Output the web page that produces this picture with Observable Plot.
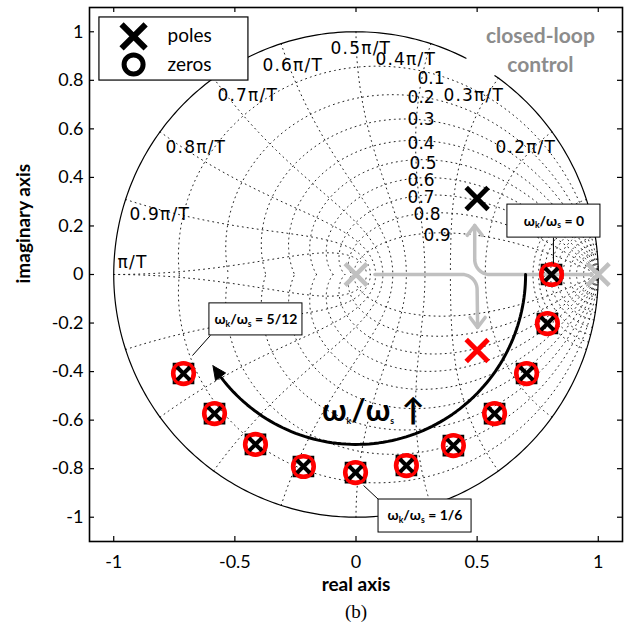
<!DOCTYPE html>
<html><head><meta charset="utf-8">
<script src="https://cdn.jsdelivr.net/npm/d3@7"></script>
<script src="https://cdn.jsdelivr.net/npm/@observablehq/plot@0.6"></script>
<style>body{margin:0;background:#fff}</style>
</head><body><div id="chart"></div>
<script>
// ---------------- data ----------------
const axisDomain = [-1.1, 1.1];
const xTicks = [-1, -0.5, 0, 0.5, 1];
const yTicks = [-1, -0.8, -0.6, -0.4, -0.2, 0, 0.2, 0.4, 0.6, 0.8, 1];

// z-grid: damping ratios and natural frequencies (× π/T)
const zetaLevels = [0.1, 0.2, 0.3, 0.4, 0.5, 0.6, 0.7, 0.8, 0.9];
const wnMajor = [0.1, 0.2, 0.3, 0.4, 0.5, 0.6, 0.7, 0.8, 0.9, 1.0];
const wnMinor = [0.01, 0.02, 0.03, 0.04, 0.05, 0.06, 0.07, 0.08, 0.09];

const zetaLabelText = ["0.1", "0.2", "0.3", "0.4", "0.5", "0.6", "0.7", "0.8", "0.9"];
const zetaLabelX = [0.254, 0.213, 0.213, 0.213, 0.221, 0.213, 0.213, 0.237, 0.279];
const zetaLabelY = [0.808, 0.729, 0.639, 0.540, 0.457, 0.387, 0.317, 0.247, 0.161];

const wnLabelText = ["0.2π/T", "0.3π/T", "0.4π/T", "0.5π/T", "0.6π/T", "0.7π/T", "0.8π/T", "0.9π/T", "π/T"];
const wnLabelX = [0.576, 0.361, 0.080, -0.105, -0.386, -0.572, -0.786, -0.935, -0.984];
const wnLabelY = [0.523, 0.738, 0.886, 0.931, 0.861, 0.738, 0.523, 0.247, 0.049];

// unit circle drawn with a small gap (degrees)
const unitCircleFromDeg = 63;
const unitCircleToDeg = 415;

// pole/zero pairs (real, imaginary)
const pzReal = [0.807, 0.790, 0.704, 0.572, 0.402, 0.208, -0.002, -0.217, -0.415, -0.584, -0.712];
const pzImag = [0.000, -0.202, -0.408, -0.573, -0.705, -0.787, -0.816, -0.791, -0.700, -0.573, -0.408];

// open-loop poles (grey) and closed-loop poles
const greyPoleReal = [0, 1];
const greyPoleImag = [0, 0];
const blackPoleReal = [0.5];
const blackPoleImag = [0.313];
const redPoleReal = [0.5];
const redPoleImag = [-0.313];

// sweep arc (radius, start/end angle in degrees)
const sweepRadius = 0.70;
const sweepFromDeg = 0;
const sweepToDeg = -147.5;

// annotation boxes
const boxLabels = ["ω_k/ω_s = 0", "ω_k/ω_s = 5/12", "ω_k/ω_s = 1/6"];
const boxX1 = [0.625, -0.605, 0.093];
const boxX2 = [1.009, -0.221, 0.477];
const boxY1 = [0.152, -0.251, -1.063];
const boxY2 = [0.288, -0.119, -0.927];
const leaderX1 = [0.815, -0.601, 0.031];
const leaderY1 = [0.152, -0.251, -0.869];
const leaderX2 = [0.815, -0.675, 0.093];
const leaderY2 = [0.045, -0.334, -0.927];

// legend
const legendBox = {x1: -1.059, x2: -0.444, y1: 0.799, y2: 1.059};
const legendLabels = ["poles", "zeros"];
const legendMarkerX = -0.918;
const legendTextX = -0.778;
const legendY = [0.981, 0.865];

// ---------------- helpers ----------------
const deg = Math.PI / 180;
function arcPts(cx, cy, r, a0, a1, n = 60) {
  return d3.range(n + 1).map(i => {
    const a = (a0 + (a1 - a0) * i / n) * deg;
    return {x: cx + r * Math.cos(a), y: cy + r * Math.sin(a)};
  });
}

// z-grid curves
const grid = [];
zetaLevels.forEach(z => {
  const m = z / Math.sqrt(1 - z * z);
  [1, -1].forEach(s => {
    d3.range(0, 181).forEach(i => {
      const th = Math.PI * i / 180, r = Math.exp(-m * th);
      grid.push({id: `z${z}${s}`, x: r * Math.cos(th), y: s * r * Math.sin(th)});
    });
  });
});
[...wnMajor, ...wnMinor].forEach(f => {
  const w = f * Math.PI;
  [1, -1].forEach(s => {
    d3.range(0, 91).forEach(i => {
      const p = i * deg, zeta = Math.sin(p), r = Math.exp(-zeta * w), a = w * Math.cos(p);
      grid.push({id: `w${f}${s}`, x: r * Math.cos(a), y: s * r * Math.sin(a)});
    });
  });
});

const unitCircle = arcPts(0, 0, 1, unitCircleFromDeg, unitCircleToDeg, 360);

// grey arrows (open loop -> closed loop)
const cr = 0.062;
const greyDown = [{x: greyPoleReal[0] + 0.078, y: 0}, {x: redPoleReal[0] - cr, y: 0},
  ...arcPts(redPoleReal[0] - cr, -cr, cr, 90, 0, 14), {x: redPoleReal[0] + 0.002, y: -0.218}];
const greyUp = [{x: greyPoleReal[1] - 0.025, y: 0}, {x: blackPoleReal[0] - 0.01 + cr, y: 0},
  ...arcPts(blackPoleReal[0] - 0.01 + cr, cr, cr, -90, -180, 14), {x: blackPoleReal[0] - 0.01, y: 0.202}];
const hw = 0.031, hh = 0.041;
const headDown = [{x: 0.502 - hw, y: -0.218 + hh}, {x: 0.502, y: -0.218}, {x: 0.502 + hw, y: -0.218 + hh}];
const headUp = [{x: 0.49 - hw, y: 0.202 - hh}, {x: 0.49, y: 0.202}, {x: 0.49 + hw, y: 0.202 - hh}];

// sweep arc with filled head
const headBack = sweepToDeg + 4.5;
const sweepLine = arcPts(0, 0, sweepRadius, sweepFromDeg, headBack + 0.5, 90);
const P = (r, a) => ({x: r * Math.cos(a * deg), y: r * Math.sin(a * deg)});
const sweepHead = [P(sweepRadius, sweepToDeg), P(sweepRadius + 0.026, headBack), P(sweepRadius - 0.026, headBack), P(sweepRadius, sweepToDeg)];

const pz = pzReal.map((x, i) => ({x, y: pzImag[i]}));
const greyPoles = greyPoleReal.map((x, i) => ({x, y: greyPoleImag[i]}));
const blackPoles = blackPoleReal.map((x, i) => ({x, y: blackPoleImag[i]}));
const redPoles = redPoleReal.map((x, i) => ({x, y: redPoleImag[i]}));
const boxes = boxLabels.map((label, i) => ({label, x1: boxX1[i], x2: boxX2[i], y1: boxY1[i], y2: boxY2[i],
  lx1: leaderX1[i], ly1: leaderY1[i], lx2: leaderX2[i], ly2: leaderY2[i]}));
const zetaLbl = zetaLabelText.map((t, i) => ({t, x: zetaLabelX[i], y: zetaLabelY[i]}));
const wnLbl = wnLabelText.map((t, i) => ({t, x: wnLabelX[i], y: wnLabelY[i]}));

const tk = 5 / 242.3;
const sans = "Lato, 'Open Sans', sans-serif";
const gridFont = "'DejaVu Sans', sans-serif";
const grey = "#c0c0c0";

const svg = Plot.plot({
  width: 636, height: 626,
  marginLeft: 89, marginRight: 14, marginTop: 7, marginBottom: 85,
  x: {domain: axisDomain, axis: null},
  y: {domain: axisDomain, axis: null},
  style: {fontFamily: sans, background: "white", color: "black"},
  marks: [
    // z-grid
    Plot.line(grid, {x: "x", y: "y", z: "id", stroke: "#222", strokeWidth: 1, strokeDasharray: "1,4"}),
    Plot.line(unitCircle, {x: "x", y: "y", stroke: "black", strokeWidth: 1.2}),
    Plot.text(zetaLbl, {x: "x", y: "y", text: "t", textAnchor: "start", fontFamily: gridFont, fontSize: 17}),
    Plot.text(wnLbl, {x: "x", y: "y", text: "t", textAnchor: "start", fontFamily: gridFont, fontSize: 17}),
    // grey movement arrows
    Plot.line(greyDown, {x: "x", y: "y", stroke: grey, strokeWidth: 3.5, curve: "linear"}),
    Plot.line(greyUp, {x: "x", y: "y", stroke: grey, strokeWidth: 3.5, curve: "linear"}),
    Plot.line(headDown, {x: "x", y: "y", stroke: grey, strokeWidth: 3.5}),
    Plot.line(headUp, {x: "x", y: "y", stroke: grey, strokeWidth: 3.5}),
    // sweep arc
    Plot.line(sweepLine, {x: "x", y: "y", stroke: "black", strokeWidth: 3}),
    Plot.line(sweepHead, {x: "x", y: "y", stroke: "black", fill: "black", strokeWidth: 1}),
    Plot.text(["ω_k/ω_s ↑"], {x: 0.072, y: -0.562, text: d => d, fontSize: 31, fontWeight: "bold", fontFamily: sans}),
    // pole-zero pairs
    Plot.dot(pz, {x: "x", y: "y", symbol: "square", r: 11.1, stroke: "black", strokeWidth: 2, fill: "none"}),
    Plot.dot(pz, {x: "x", y: "y", symbol: "circle", r: 10.3, stroke: "#ff0000", strokeWidth: 4.6, fill: "none"}),
    Plot.dot(pz, {x: "x", y: "y", symbol: "times", r: 6, stroke: "black", strokeWidth: 4, fill: "none"}),
    // single poles
    Plot.dot(greyPoles, {x: "x", y: "y", symbol: "times", r: 10, stroke: grey, strokeWidth: 4.5}),
    Plot.dot(blackPoles, {x: "x", y: "y", symbol: "times", r: 10, stroke: "black", strokeWidth: 5}),
    Plot.dot(redPoles, {x: "x", y: "y", symbol: "times", r: 10, stroke: "#ff0000", strokeWidth: 5}),
    // annotation boxes
    Plot.link(boxes, {x1: "lx1", y1: "ly1", x2: "lx2", y2: "ly2", stroke: "black", strokeWidth: 1}),
    Plot.rect(boxes, {x1: "x1", x2: "x2", y1: "y1", y2: "y2", fill: "white", stroke: "black", strokeWidth: 1}),
    Plot.text(boxes, {x: d => (d.x1 + d.x2) / 2, y: d => (d.y1 + d.y2) / 2, text: "label", fontSize: 14, fontWeight: "bold", fontFamily: sans}),
    // legend
    Plot.rect([legendBox], {x1: "x1", x2: "x2", y1: "y1", y2: "y2", fill: "white", stroke: "black", strokeWidth: 1.2}),
    Plot.dot([{x: legendMarkerX, y: legendY[0]}], {x: "x", y: "y", symbol: "times", r: 11, stroke: "black", strokeWidth: 6}),
    Plot.dot([{x: legendMarkerX, y: legendY[1]}], {x: "x", y: "y", symbol: "circle", r: 9.5, stroke: "black", strokeWidth: 5, fill: "none"}),
    Plot.text(legendLabels, {x: legendTextX, y: (d, i) => legendY[i], text: d => d, textAnchor: "start", fontSize: 19, fontFamily: sans}),
    // closed-loop control label
    Plot.text(["closed-loop\ncontrol"], {x: 0.761, y: 0.934, text: d => d, fontSize: 21, fontWeight: "bold", fill: "#8c8c8c", lineHeight: 1.38, fontFamily: sans}),
    // frame & ticks
    Plot.frame({stroke: "black", strokeWidth: 1.6}),
    Plot.ruleX(xTicks, {x: d => d, y1: axisDomain[0], y2: axisDomain[0] + tk, stroke: "black", strokeWidth: 1.2}),
    Plot.ruleX(xTicks, {x: d => d, y1: axisDomain[1], y2: axisDomain[1] - tk, stroke: "black", strokeWidth: 1.2}),
    Plot.ruleY(yTicks, {y: d => d, x1: axisDomain[0], x2: axisDomain[0] + tk, stroke: "black", strokeWidth: 1.2}),
    Plot.ruleY(yTicks, {y: d => d, x1: axisDomain[1], x2: axisDomain[1] - tk, stroke: "black", strokeWidth: 1.2}),
    Plot.axisX({ticks: xTicks, tickSize: 0, tickPadding: 14, tickFormat: d => String(d), fontSize: 18, label: null, fontFamily: sans}),
    Plot.axisY({ticks: yTicks, tickSize: 0, tickPadding: 6, tickFormat: d => String(d), fontSize: 18, label: null, fontFamily: sans}),
    // axis titles and caption
    Plot.text(["real axis"], {frameAnchor: "bottom", text: d => d, dy: 49, fontSize: 19, fontWeight: "bold", fontFamily: sans}),
    Plot.text(["imaginary axis"], {frameAnchor: "left", text: d => d, rotate: -90, dx: -66, dy: 9, fontSize: 19, fontWeight: "bold", fontFamily: sans}),
    Plot.text(["(b)"], {frameAnchor: "bottom", text: d => d, dy: 76, fontSize: 19, fontFamily: "'Liberation Serif', 'DejaVu Serif', serif"})
  ]
});

// subscripts: "ω_k" -> ω with subscript k
d3.select(svg).selectAll("text").each(function () {
  const t = this.textContent;
  if (t.includes("π")) d3.select(this).attr("letter-spacing", 1.2);
  if (!t.includes("_")) return;
  const fs = parseFloat(getComputedStyle(this).fontSize) || 14;
  const parts = t.split(/_(.)/);
  const sel = d3.select(this);
  sel.text(null);
  let shifted = false;
  const big = fs > 20;
  const subScale = big ? 0.72 : 0.62;
  const shift = big ? 0.14 : 0.2;
  parts.forEach((p, i) => {
    if (!p) return;
    const sub = i % 2 === 1;
    const ts = sel.append("tspan").text(p);
    if (sub) { ts.attr("font-size", fs * subScale).attr("dy", shifted ? 0 : fs * shift); shifted = true; }
    else if (shifted) { ts.attr("dy", -fs * shift); shifted = false; }
  });
});

document.getElementById("chart").appendChild(svg);
</script>
</body></html>
